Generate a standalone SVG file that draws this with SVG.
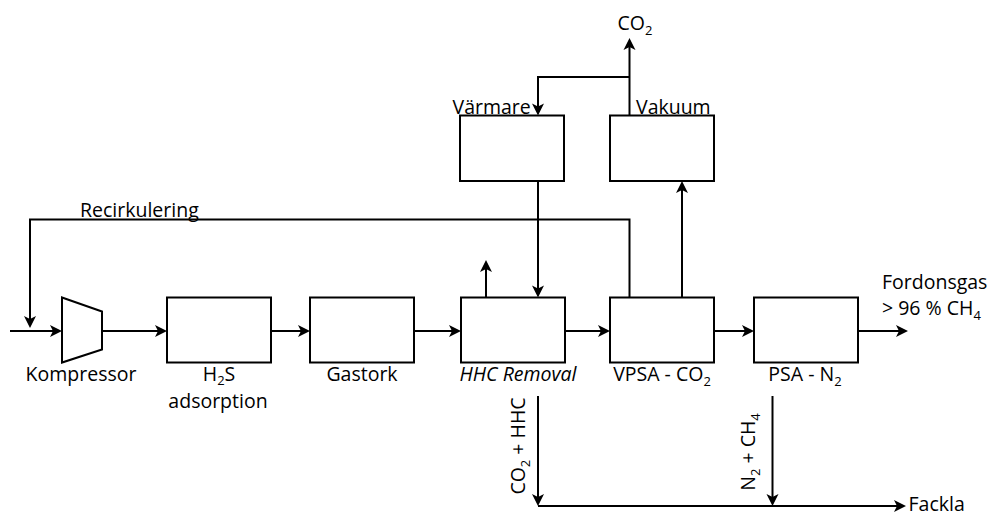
<svg xmlns="http://www.w3.org/2000/svg" width="989" height="513" viewBox="0 0 989 513">
<style>
  .box { fill: #fff; stroke: #000; stroke-width: 2; }
  .ln { fill: none; stroke: #000; stroke-width: 2; }
  .arr { fill: none; stroke: #000; stroke-width: 2; marker-end: url(#ah); }
  text { font-family: "Open Sans", "Liberation Sans", sans-serif; font-size: 19.5px; fill: #000; }
  .c { text-anchor: middle; }
  .sub { font-size: 13px; }
</style>
<defs>
  <marker id="ah" markerUnits="userSpaceOnUse" markerWidth="15" markerHeight="15" viewBox="-14 -7.5 15 15" refX="-4" refY="0" orient="auto">
    <path d="M0,0 L-12,-6 L-9,0 L-12,6 Z" fill="#000"/>
  </marker>
</defs>
<rect width="989" height="513" fill="#fff"/>

<g id="connectors">
  <path class="arr" d="M10,331 H58"/>
  <path class="arr" d="M102,331 H163"/>
  <path class="arr" d="M271,331 H306"/>
  <path class="arr" d="M414,331 H457"/>
  <path class="arr" d="M565,331 H606"/>
  <path class="arr" d="M714,331 H750"/>
  <path class="arr" d="M858,331 H904"/>
  <path class="arr" d="M629.5,297.5 V219.5 H30 V324"/>
  <path class="arr" d="M682,297.5 V185"/>
  <path class="arr" d="M629.5,115.5 V42"/>
  <path class="arr" d="M629.5,77 H538 V111.5"/>
  <path class="arr" d="M538,181 V293.5"/>
  <path class="arr" d="M486,297.5 V264"/>
  <path class="arr" d="M538,396 V502"/>
  <path class="arr" d="M772.5,396 V502"/>
  <path class="arr" d="M538,506 H902"/>
</g>

<g id="kompressor">
  <path class="box" d="M62,297.5 L102,311.5 L102,349.5 L62,362.5 Z"/>
  <text class="c" x="81" y="381">Kompressor</text>
</g>
<g id="h2s">
  <rect class="box" x="167" y="297.5" width="104" height="65"/>
  <text class="c" x="219" y="381">H<tspan class="sub" dy="4">2</tspan><tspan dy="-4">S</tspan></text>
  <text class="c" x="218" y="407.5">adsorption</text>
</g>
<g id="gastork">
  <rect class="box" x="310" y="297.5" width="104" height="65"/>
  <text class="c" x="362" y="380.5">Gastork</text>
</g>
<g id="hhc">
  <rect class="box" x="461" y="297.5" width="104" height="65"/>
  <text class="c" x="518" y="380.5" font-style="italic">HHC Removal</text>
</g>
<g id="vpsa">
  <rect class="box" x="610" y="297.5" width="104" height="65"/>
  <text class="c" x="662" y="381">VPSA - CO<tspan class="sub" dy="5">2</tspan></text>
</g>
<g id="psa">
  <rect class="box" x="754" y="297.5" width="104" height="65"/>
  <text class="c" x="805" y="381">PSA - N<tspan class="sub" dy="5">2</tspan></text>
</g>
<g id="varmare">
  <rect class="box" x="460" y="115.5" width="104" height="65.5"/>
  <text x="452.5" y="113.5">Värmare</text>
</g>
<g id="vakuum">
  <rect class="box" x="610" y="115.5" width="104" height="65.5"/>
  <text x="636" y="113.5">Vakuum</text>
</g>

<g id="labels">
  <text x="617.5" y="30">CO<tspan class="sub" dy="5">2</tspan></text>
  <text x="80" y="217">Recirkulering</text>
  <text x="882" y="288.5">Fordonsgas</text>
  <text x="882" y="315">&gt; 96 % CH<tspan class="sub" dy="5">4</tspan></text>
  <text x="908.5" y="510.5">Fackla</text>
  <text class="c" transform="translate(525,446) rotate(-90)">CO<tspan class="sub" dy="5">2</tspan><tspan dy="-5"> + HHC</tspan></text>
  <text class="c" transform="translate(755,452) rotate(-90)">N<tspan class="sub" dy="5">2</tspan><tspan dy="-5"> + CH</tspan><tspan class="sub" dy="5">4</tspan></text>
</g>
</svg>
